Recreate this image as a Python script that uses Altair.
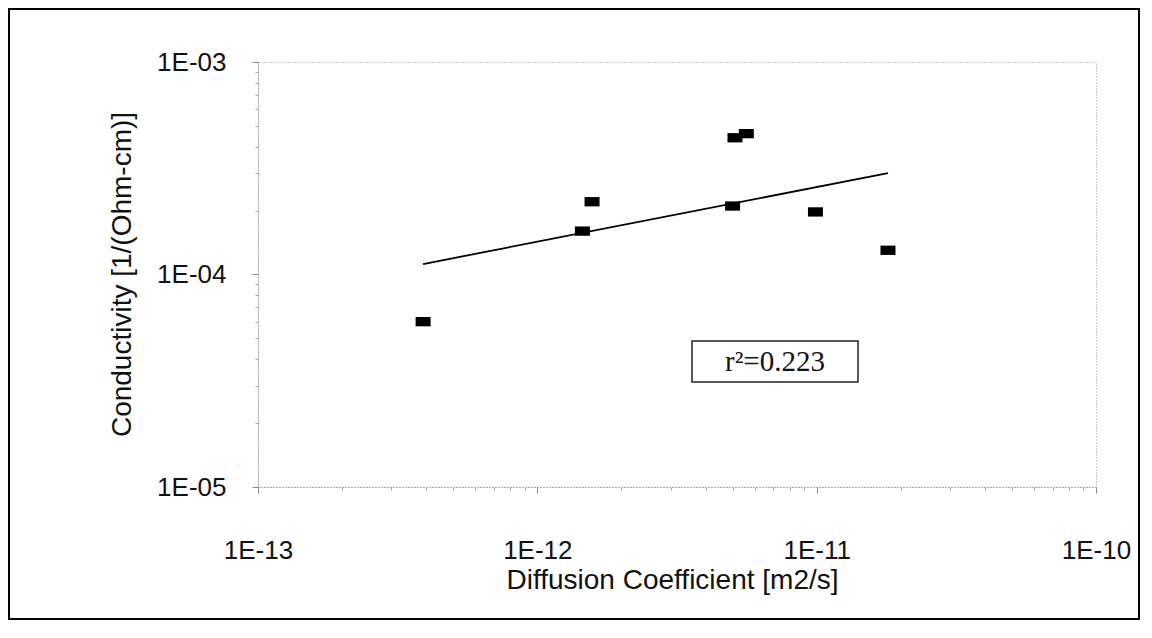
import altair as alt
import pandas as pd

# ---- data ----
DIFFUSION = [3.9e-13, 1.45e-12, 1.57e-12, 5.0e-12, 5.1e-12, 5.6e-12, 9.9e-12, 1.8e-11]
CONDUCTIVITY = [6.0e-5, 1.6e-4, 2.2e-4, 2.1e-4, 4.4e-4, 4.6e-4, 1.97e-4, 1.3e-4]
FIT_X = [3.9e-13, 1.8e-11]
FIT_Y = [1.12e-4, 3.0e-4]
X_TICKS = [1e-13, 1e-12, 1e-11, 1e-10]
X_LABELS = ["1E-13", "1E-12", "1E-11", "1E-10"]
Y_TICKS = [1e-5, 1e-4, 1e-3]
Y_LABELS = ["1E-05", "1E-04", "1E-03"]
ANNOTATION = ["r²=0.223"]
X_TITLE = "Diffusion Coefficient [m2/s]"
Y_TITLE = "Conductivity [1/(Ohm-cm)]"

pts = pd.DataFrame({"D": DIFFUSION, "C": CONDUCTIVITY})
fit = pd.DataFrame({"D": FIT_X, "C": FIT_Y})
ann = pd.DataFrame({"t": ANNOTATION})

x_expr = "[" + ",".join(f"'{s}'" for s in X_LABELS) + "][round(log(datum.value)/LN10)+13]"
y_expr = "[" + ",".join(f"'{s}'" for s in Y_LABELS) + "][round(log(datum.value)/LN10)+5]"

# minor tick positions (2..9 within each decade)
X_MINOR = [k * t for t in X_TICKS[:-1] for k in range(2, 10)]
Y_MINOR = [k * t for t in Y_TICKS[:-1] for k in range(2, 10)]

FONT = "Liberation Sans"

xscale = alt.Scale(type="log", domain=[X_TICKS[0], X_TICKS[-1]], nice=False)
yscale = alt.Scale(type="log", domain=[Y_TICKS[0], Y_TICKS[-1]], nice=False)

xaxis = alt.Axis(values=X_TICKS, labelExpr=x_expr, title=X_TITLE, grid=False,
                 orient="bottom",
                 labelFont=FONT, labelFontSize=26, labelColor="#111",
                 labelPadding=44, tickSize=6, tickColor="#888",
                 domainColor="#888", domainDash=[1, 2],
                 titleFont=FONT, titleFontSize=28, titleFontWeight="normal",
                 titleColor="#111", titleX=414, titleY=93,
                 titleAnchor="middle", titleAlign="center", titleBaseline="middle",
                 labelFlush=False)
yaxis = alt.Axis(values=Y_TICKS, labelExpr=y_expr, title=Y_TITLE, grid=False,
                 orient="left",
                 labelFont=FONT, labelFontSize=26, labelColor="#111",
                 labelPadding=26, tickSize=6, tickColor="#888",
                 domainColor="#888", domainDash=[1, 2],
                 titleFont=FONT, titleFontSize=28, titleFontWeight="normal",
                 titleColor="#111", titleX=-136, titleY=212, titleAngle=270,
                 titleAlign="center", titleBaseline="middle", labelFlush=False)

xminor = alt.Axis(values=X_MINOR, orient="bottom", labels=False, domain=False,
                  grid=False, title=None, tickSize=3, tickColor="#aaa")
yminor = alt.Axis(values=Y_MINOR, orient="left", labels=False, domain=False,
                  grid=False, title=None, tickSize=3, tickColor="#aaa")

rect_shape = "M-1,-0.62L1,-0.62L1,0.62L-1,0.62Z"

minor = alt.Chart(fit).mark_point(opacity=0).encode(
    x=alt.X("D:Q", scale=xscale, axis=xminor),
    y=alt.Y("C:Q", scale=yscale, axis=yminor),
)

line = alt.Chart(fit).mark_line(color="black", strokeWidth=1.8).encode(
    x=alt.X("D:Q", scale=xscale, axis=xaxis),
    y=alt.Y("C:Q", scale=yscale, axis=yaxis),
)

points = alt.Chart(pts).mark_point(shape=rect_shape, filled=True, size=225,
                                   color="black", opacity=1).encode(
    x=alt.X("D:Q", scale=xscale, axis=xaxis),
    y=alt.Y("C:Q", scale=yscale, axis=yaxis),
)

box = alt.Chart(ann).mark_rect(fill="white", stroke="#222", strokeWidth=1.5).encode(
    x=alt.value(434), x2=alt.value(600), y=alt.value(279), y2=alt.value(320),
)

label = alt.Chart(ann).mark_text(font="Liberation Serif", fontSize=29,
                                 align="center", baseline="alphabetic",
                                 color="#111").encode(
    x=alt.value(517), y=alt.value(309), text="t:N",
)

border = alt.Chart(ann).mark_rect(fillOpacity=0, stroke="black", strokeWidth=2).encode(
    x=alt.value(-249), x2=alt.value(881), y=alt.value(-53), y2=alt.value(557),
)

main = alt.layer(border, line, points, box, label)

chart = alt.layer(main, minor).resolve_axis(x="independent", y="independent").properties(
    width=838, height=425,
    autosize=alt.AutoSizeParams(type="none"),
    padding={"left": 250, "top": 54, "right": 44, "bottom": 135},
).configure_view(stroke="#999", strokeDash=[1, 2], strokeWidth=1)

chart.save("out.html", embed_options={"renderer": "svg", "actions": False})
